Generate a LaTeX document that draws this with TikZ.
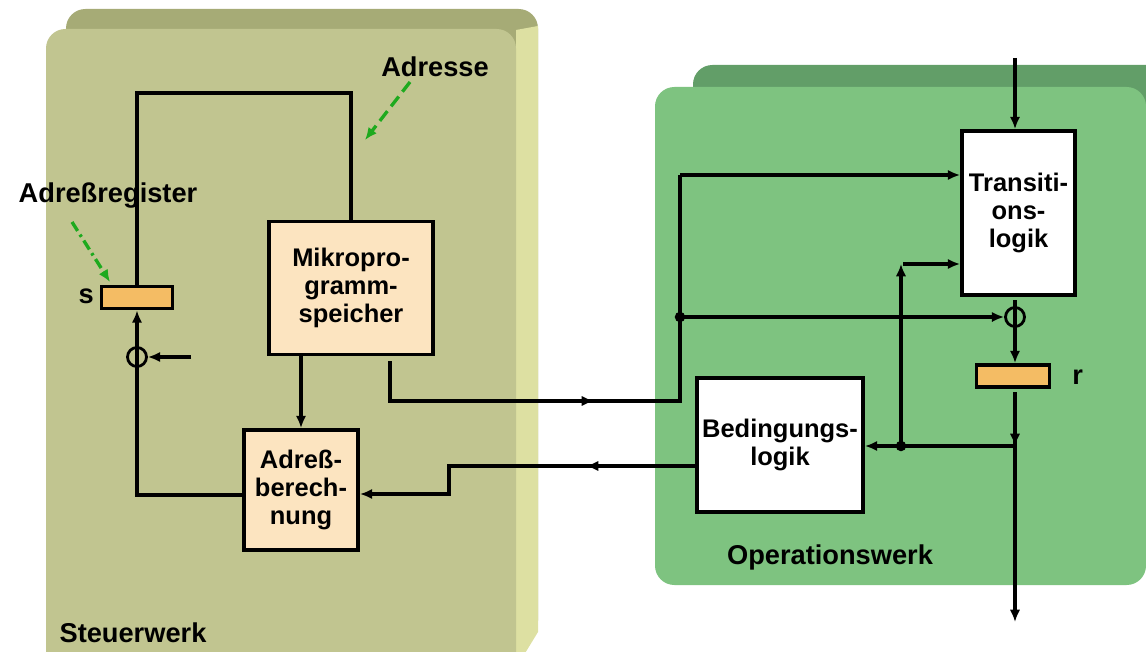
\documentclass[tikz,border=0pt]{standalone}
\usepackage{fontspec}
\setmainfont{Liberation Sans}
\usetikzlibrary{arrows.meta,calc}

\definecolor{olivefront}{RGB}{193,197,144}
\definecolor{olivetop}{RGB}{166,171,118}
\definecolor{oliveside}{RGB}{221,224,162}
\definecolor{greenfront}{RGB}{126,195,128}
\definecolor{greentop}{RGB}{98,158,104}
\definecolor{regorange}{RGB}{244,188,100}
\definecolor{boxpeach}{RGB}{252,228,192}
\definecolor{notegreen}{RGB}{30,170,30}

\newcommand{\boxfont}{\bfseries\fontsize{14.5}{15.8}\selectfont}
\newcommand{\lblfont}{\bfseries\fontsize{15.5}{17}\selectfont}

\begin{document}
\begin{tikzpicture}[x=0.02cm, y=-0.02cm, >={Latex[length=7pt,width=6pt]}]
        \tikzset{
            block/.style={draw, line width=2.2pt, align=center, font=\boxfont, inner sep=0pt},
            reg/.style={draw, line width=2.2pt, fill=regorange, minimum height=0.44cm, minimum width=1.42cm, inner sep=0pt},
            junc/.style={draw, circle, line width=1.6pt, minimum size=0.38cm, inner sep=0pt},
            wire/.style={line width=1.8pt},
            thickwire/.style={line width=2.6pt},
            note/.style={->, notegreen, line width=1.9pt},
            lbl/.style={font=\lblfont, inner sep=0pt}
        }
        \useasboundingbox (0,0) rectangle (1146,652);
        \clip (0,0) rectangle (1146,652);

        % panels
        \fill[olivetop, rounded corners=11pt] (66,9) rectangle (538,640);
        \fill[oliveside] (516,30) -- (538,26) -- (538,632) -- (516,668) -- cycle;
        \fill[olivefront, rounded corners=11pt] (46,29) rectangle (516,700);
        \fill[greentop, rounded corners=11pt] (693,65) rectangle (1180,560);
        \fill[greenfront, rounded corners=11pt] (655,87) rectangle (1146,585);

        % Steuerwerk
        \node[block, fill=boxpeach, minimum width=3.28cm, minimum height=2.66cm] (mikro) at (351,288) {Mikropro-\\gramm-\\speicher};
        \node[block, fill=boxpeach, minimum width=2.28cm, minimum height=2.4cm] (adr) at (301,490) {Adreß-\\berech-\\nung};
        \node[reg] (regs) at (137,297.5) {};
        \node[junc] (circs) at (137,357) {};
        \node[lbl, anchor=east] (lbls) at (94,296) {s};

        % Operationswerk
        \node[block, fill=white, minimum width=2.26cm, minimum height=3.28cm] (trans) at (1018.5,213) {Transiti-\\ons-\\logik};
        \node[block, fill=white, minimum width=3.32cm, minimum height=2.68cm] (bed) at (780,445) {Bedingungs-\\logik};
        \node[reg, minimum width=1.46cm] (regr) at (1013,376) {};
        \node[junc] (circr) at (1015,317) {};
        \node[lbl, anchor=west] (lblr) at (1072,377) {r};

        % labels
        \node[lbl] (lbladr) at (435,67) {Adresse};
        \node[lbl] (lblreg) at (108,196) {Adreßregister};
        \node[lbl] (lblop) at (830,557) {Operationswerk};
        \node[lbl] (lblst) at (133,633) {Steuerwerk};

        \coordinate (topwire) at (351,93);
        \coordinate (sin) at (191,357);
        \coordinate (mout) at (390,361);
        \coordinate (midA) at (594,401);
        \coordinate (jA) at (680,401);
        \coordinate (jT) at (680,175);
        \coordinate (dotA) at (680,317);
        \coordinate (tin) at (1015,58);
        \coordinate (tout) at (1015,300);
        \coordinate (rout) at (1015,392);
        \coordinate (rmid) at (1015,446);
        \coordinate (outend) at (1015,622);
        \coordinate (dotB) at (901,446);
        \coordinate (upB) at (901,264);
        \coordinate (bout) at (697,466);
        \coordinate (midB) at (586,466);
        \coordinate (stepB) at (449,466);
        \coordinate (adrtail) at (410,82);
        \coordinate (adrtip) at (365,140);
        \coordinate (regtail) at (72,222);
        \coordinate (regtip) at (110,282);

        % Steuerwerk wires
        \draw[wire] (regs.north) |- (topwire) -- (mikro.north);
        \draw[wire, ->] (adr.west |- 0,495) -| (regs.south);
        \draw[wire, ->] (sin) -- (circs.east);
        \draw[wire, ->] (adr.north |- mikro.south) -- (adr.north);

        % Steuerwerk -> Operationswerk
        \draw[wire, ->] (mout) |- (midA);
        \draw[thickwire] ($(midA)+(-6,0)$) -- (jA) -- (jT);
        \draw[wire, ->] (jT) -- (jT -| trans.west);
        \draw[wire, ->] (dotA) -- (circr.west);
        \fill (dotA) circle (3pt);

        % Operationswerk wires
        \draw[wire, ->] (tin) -- (tin |- trans.north);
        \draw[wire, ->] (tout) -- (tout |- regr.north);
        \draw[wire, ->] (rout) -- (rmid);
        \draw[wire, ->] ($(rmid)+(0,-6)$) -- (outend);
        \draw[wire, ->] (rmid) -- (rmid -| bed.east);
        \draw[wire, ->] (dotB) -- (upB);
        \draw[wire, ->] ($(upB)+(2,0)$) -- (upB -| trans.west);
        \fill (dotB) circle (3pt);

        % Operationswerk -> Steuerwerk
        \draw[wire, ->] (bout) -- (midB);
        \draw[wire, ->] ($(midB)+(6,0)$) -- (stepB) |- (adr.east |- 0,494);

        % notes
        \draw[note, dash pattern=on 7pt off 3.5pt] (adrtail) -- (adrtip);
        \draw[note, dash pattern=on 6pt off 2.5pt on 1.5pt off 2.5pt] (regtail) -- (regtip);
    \end{tikzpicture}
\end{document}
